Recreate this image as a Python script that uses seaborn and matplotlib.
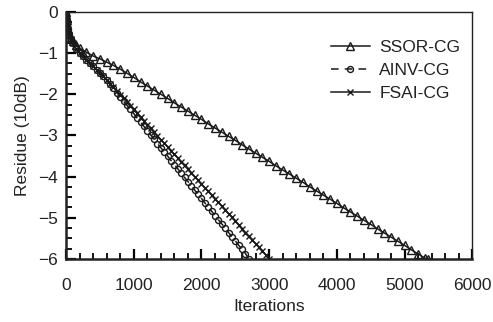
import matplotlib
matplotlib.use("Agg")
import matplotlib.pyplot as plt
from matplotlib.ticker import MultipleLocator
import seaborn as sns
import pandas as pd

ssor_it = [0, 5, 10, 20, 30, 50, 75, 100, 150, 200, 300, 400, 500, 600, 700, 800,
           900, 1000, 1100, 1200, 1300, 1400, 1500, 1600, 1700, 1800, 1900, 2000,
           2100, 2200, 2300, 2400, 2500, 2600, 2700, 2800, 2900, 3000, 3100, 3200,
           3300, 3400, 3500, 3600, 3700, 3800, 3900, 4000, 4100, 4200, 4300, 4400,
           4500, 4600, 4700, 4800, 4900, 5000, 5100, 5200, 5300, 5350]
ssor_res = [0.0, -0.1, -0.2, -0.32, -0.42, -0.53, -0.63, -0.7, -0.8, -0.88, -0.98, -1.07,
            -1.14, -1.22, -1.30, -1.39,
            -1.49, -1.59, -1.70, -1.80, -1.90, -2.00, -2.10, -2.21, -2.31, -2.41, -2.51, -2.61,
            -2.72, -2.82, -2.92, -3.02, -3.12, -3.23, -3.33, -3.43, -3.53, -3.63, -3.74, -3.84,
            -3.94, -4.04, -4.14, -4.25, -4.35, -4.45, -4.55, -4.65, -4.76, -4.86, -4.96, -5.06,
            -5.16, -5.27, -5.37, -5.47, -5.57, -5.67, -5.78, -5.88, -5.98, -6.0]

ainv_it = [0, 5, 10, 20, 30, 50, 75, 100, 150, 200, 250, 300, 350, 400, 450, 500, 550,
           600, 650, 700, 750, 800, 850, 900, 950, 1000, 1050, 1100, 1150, 1200, 1250,
           1300, 1350, 1400, 1450, 1500, 1550, 1600, 1650, 1700, 1750, 1800, 1850, 1900,
           1950, 2000, 2050, 2100, 2150, 2200, 2250, 2300, 2350, 2400, 2450, 2500, 2550,
           2600, 2650, 2700]
ainv_res = [0.0, -0.1, -0.2, -0.32, -0.42, -0.55, -0.67, -0.76, -0.9, -1.0, -1.08, -1.16,
            -1.23, -1.32, -1.40, -1.48, -1.56,
            -1.65, -1.75, -1.86, -1.96, -2.06, -2.17, -2.27, -2.37, -2.47, -2.58, -2.68,
            -2.78, -2.89, -2.99, -3.09, -3.20, -3.30, -3.40, -3.50, -3.61, -3.71, -3.81,
            -3.92, -4.02, -4.12, -4.22, -4.33, -4.43, -4.53, -4.64, -4.74, -4.84, -4.95,
            -5.05, -5.15, -5.25, -5.36, -5.46, -5.56, -5.67, -5.77, -5.87, -6.0]

fsai_it = [0, 5, 10, 20, 30, 50, 75, 100, 150, 200, 250, 300, 350, 400, 450, 500, 550,
           600, 650, 700, 750, 800, 850, 900, 950, 1000, 1050, 1100, 1150, 1200, 1250,
           1300, 1350, 1400, 1450, 1500, 1550, 1600, 1650, 1700, 1750, 1800, 1850, 1900,
           1950, 2000, 2050, 2100, 2150, 2200, 2250, 2300, 2350, 2400, 2450, 2500, 2550,
           2600, 2650, 2700, 2750, 2800, 2850, 2900, 2950, 3000]
fsai_res = [0.0, -0.1, -0.2, -0.32, -0.42, -0.55, -0.67, -0.76, -0.9, -1.0, -1.08, -1.16,
            -1.23, -1.32, -1.40, -1.48, -1.56,
            -1.65, -1.74, -1.83, -1.92, -2.01, -2.10, -2.19, -2.28, -2.37, -2.46, -2.56,
            -2.65, -2.74, -2.83, -2.92, -3.01, -3.10, -3.19, -3.28, -3.37, -3.46, -3.55,
            -3.64, -3.73, -3.82, -3.91, -4.00, -4.09, -4.18, -4.27, -4.36, -4.45, -4.54,
            -4.63, -4.72, -4.81, -4.90, -4.99, -5.08, -5.17, -5.27, -5.36, -5.45, -5.54,
            -5.63, -5.72, -5.81, -5.90, -6.0]

x_ticks = [0, 1000, 2000, 3000, 4000, 5000, 6000]
y_ticks = [0, -1, -2, -3, -4, -5, -6]

plt.rcParams['font.family'] = ['Liberation Sans', 'DejaVu Sans']

fig = plt.figure(figsize=(4.93, 3.22), dpi=100)
ax = fig.add_axes([0.134, 0.196, 0.824, 0.767])

col = "#1a1a1a"
series = [
    ("SSOR-CG", ssor_it, ssor_res, "^", "-", 5.5, "none"),
    ("AINV-CG", ainv_it, ainv_res, "o", (0, (5, 4)), 4.3, "none"),
    ("FSAI-CG", fsai_it, fsai_res, "x", "-", 4.8, col),
]
for name, xs, ys, mk, ls, ms, mfc in series:
    df = pd.DataFrame({"Iterations": xs, "Residue": ys})
    sns.lineplot(data=df, x="Iterations", y="Residue", ax=ax, sort=False,
                 estimator=None, color=col, linestyle=ls, linewidth=1.1,
                 marker=mk, markersize=ms, markerfacecolor=mfc,
                 markeredgecolor=col, markeredgewidth=1.0, label=name)

ax.set_xlim(0, 6000)
ax.set_ylim(-6, 0)
ax.set_xticks(x_ticks)
ax.set_yticks(y_ticks)
ax.xaxis.set_minor_locator(MultipleLocator(200))
ax.yaxis.set_minor_locator(MultipleLocator(0.25))
ax.tick_params(axis='x', which='major', direction='in', length=7, width=1.6, color='black')
ax.tick_params(axis='y', which='major', direction='in', length=7, width=1.6, color='black')
ax.tick_params(axis='x', which='minor', direction='in', length=4.5, width=1.3, color='black')
ax.tick_params(axis='y', which='minor', direction='in', length=4.5, width=1.3, color='black')
ax.tick_params(axis='x', which='major', labelsize=12.5, labelcolor="#222222", pad=14)
ax.tick_params(axis='y', which='major', labelsize=12.5, labelcolor="#222222", pad=6)
for s in ax.spines.values():
    s.set_linewidth(1.0)
    s.set_color("#222222")
ax.spines['left'].set_linewidth(1.8)
ax.spines['bottom'].set_linewidth(1.8)

ax.set_xlabel("Iterations", fontsize=12.5, color="#222222", labelpad=4)
ax.set_ylabel("Residue (10dB)", fontsize=12.5, color="#222222", labelpad=6)

leg = ax.legend(loc="upper right", bbox_to_anchor=(1.0, 0.935), frameon=False,
                fontsize=12.5, handlelength=2.3, labelspacing=0.45,
                handletextpad=0.5, borderaxespad=0.3)
for t in leg.get_texts():
    t.set_color("#222222")

fig.savefig("out.png", dpi=100)
